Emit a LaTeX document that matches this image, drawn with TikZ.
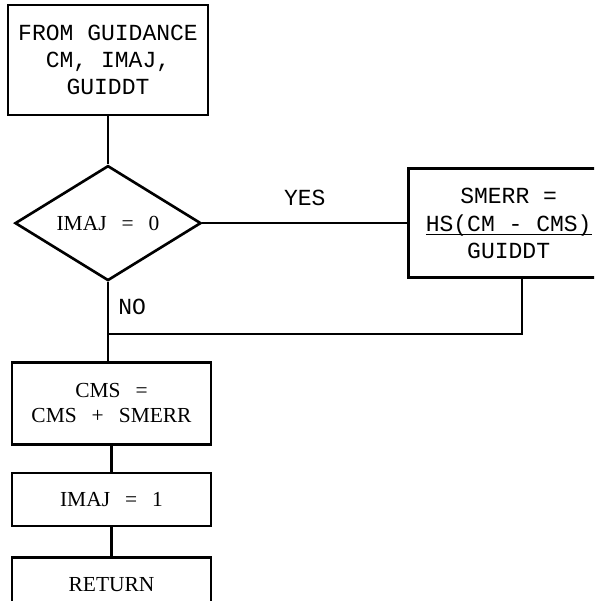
\documentclass[tikz,border=0pt]{standalone}
\usepackage{fontspec}
\setmainfont{Liberation Serif}
\setmonofont{Liberation Mono}
\usetikzlibrary{positioning, shapes.geometric}
\newcommand{\wsp}{\hspace{0.7em}}

\begin{document}
\begin{tikzpicture}[
    line width=1.5pt,
    node distance=1cm,
    tt/.style={font=\ttfamily\fontsize{13.1}{15.2}\selectfont},
    rm/.style={font=\fontsize{12.2}{14.2}\selectfont},
    procbox/.style={
        rectangle,
        draw,
        inner sep=0pt,
        text centered,
        align=center,
        minimum width=3.98cm
    },
    decision/.style={
        diamond,
        draw,
        inner sep=0pt,
        aspect=1.6,
        minimum width=3.72cm,
        minimum height=2.3cm,
        rm
    },
    link/.style={line width=1.2pt}
]

% Page frame
\useasboundingbox (0,0) rectangle (11.88,-12.02);
\clip (0,0) rectangle (11.88,-12.02);

%% INPUT %%
\node (input) [procbox, tt, minimum width=4cm, minimum height=2.2cm] at (2.16,-1.2) {
    FROM GUIDANCE\\CM, IMAJ,\\GUIDDT
};

%% TEST ON IMAJ %%
\node (test) [decision, below=0.96cm of input] {IMAJ\wsp=\wsp0};

\node (smerr) [procbox, tt, minimum width=4cm, minimum height=2.18cm, right=4.1cm of test] {
    SMERR =\\[0.04cm]\underline{\smash{HS(CM - CMS)}}\\GUIDDT
};

%% UPDATE %%
\node (cms) [procbox, rm, minimum height=1.64cm, below=1.58cm of test, xshift=0.07cm] {
    CMS\wsp=\\CMS\wsp+\wsp SMERR
};

\node (imaj) [procbox, rm, minimum height=1.06cm, below=0.52cm of cms] {IMAJ\wsp=\wsp1};

\node (ret) [procbox, rm, minimum height=1.1cm, below=0.58cm of imaj] {RETURN};

\node (merge) [coordinate, below=1.04cm of test.south] {};

%% CONNECTORS %%
\draw [link] (input) -- (test);

\draw [link] (test.east) --
    node[above=0.2cm, tt] {YES}
    (smerr.west);

\draw [link] (test.south) --
    node[pos=0.48, right=0.07cm, tt] {NO}
    (merge) -- (test.south |- cms.north);

\draw [link] ([xshift=0.26cm]smerr.south) |- (merge);

\draw [link] (cms) -- (imaj);
\draw [link] (imaj) -- (ret);

\end{tikzpicture}
\end{document}
